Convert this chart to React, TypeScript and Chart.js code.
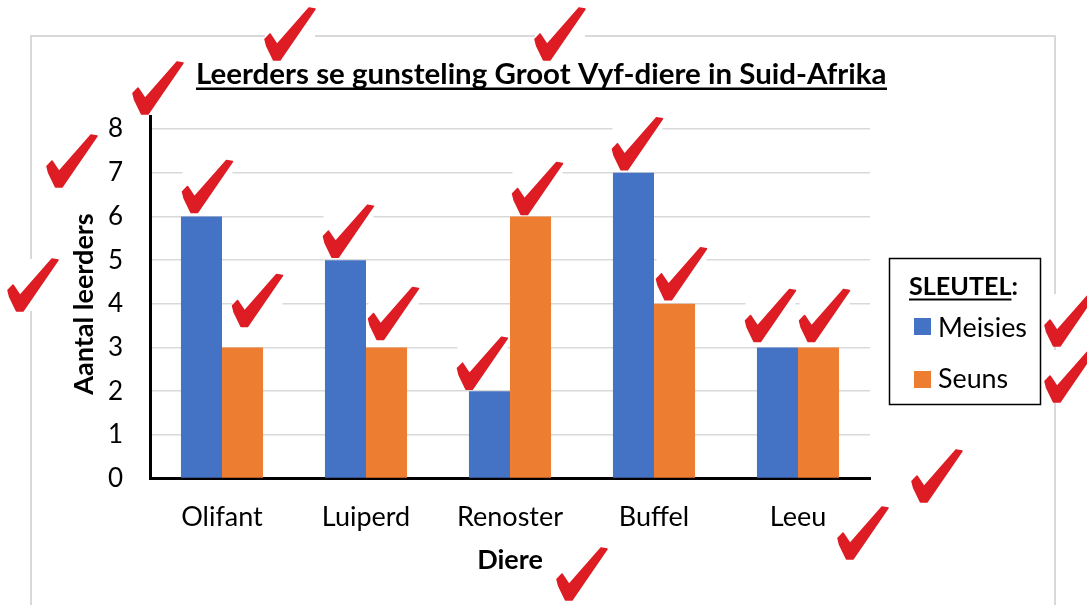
import React, { useEffect, useRef } from 'react';
import { Chart, registerables } from 'chart.js';

Chart.register(...registerables);

const categories = ['Olifant', 'Luiperd', 'Renoster', 'Buffel', 'Leeu'];
const meisies = [6, 5, 2, 7, 3];
const seuns = [3, 3, 6, 4, 3];
const yTicks = [0, 1, 2, 3, 4, 5, 6, 7, 8];
const seriesNames = ['Meisies', 'Seuns'];
const titleText = 'Leerders se gunsteling Groot Vyf-diere in Suid-Afrika';
const yTitle = 'Aantal leerders';
const xTitle = 'Diere';
const legendTitle = 'SLEUTEL';

const BLUE = '#4472C4';
const ORANGE = '#ED7D31';
const RED = '#DD1C24';
const FONT = 'Lato';

// check marks tied to bars: [dataset, index, dx from bar centre, dy from bar top]
const barChecks = [
  [0, 0, -19, -56], [1, 0, -10, -73],
  [0, 1, -22, -55], [1, 1, -18, -60],
  [0, 2, -32, -54], [1, 2, -18, -54],
  [0, 3, -21, -55], [1, 3, -18, -56],
  [0, 4, -32, -58], [1, 4, -19, -58],
];
// free-standing check marks (page positions)
const freeChecks = [
  [265, 8], [535, 8], [133, 62], [47, 135], [8, 259],
  [1045, 294], [1045, 350], [912, 450], [838, 507], [557, 548],
];

function drawCheck(ctx: CanvasRenderingContext2D, x: number, y: number) {
  const w = 50, h = 52;
  ctx.save();
  ctx.fillStyle = '#ffffff';
  ctx.fillRect(x, y, w, h);
  const pts = [
    [0.0, 0.6], [0.1, 0.5], [0.24, 0.7], [0.88, 0.0], [1.0, 0.02],
    [0.3, 1.0], [0.17, 1.0], [0.03, 0.72],
  ];
  ctx.beginPath();
  pts.forEach(([px, py], i) => {
    const X = x + px * w, Y = y + py * h;
    if (i === 0) ctx.moveTo(X, Y); else ctx.lineTo(X, Y);
  });
  ctx.closePath();
  ctx.fillStyle = RED;
  ctx.lineJoin = 'round';
  ctx.strokeStyle = RED;
  ctx.lineWidth = 1.5;
  ctx.fill();
  ctx.stroke();
  ctx.restore();
}

function fitFont(ctx: CanvasRenderingContext2D, text: string, target: number, weight: string) {
  ctx.font = `${weight} 100px ${FONT}`;
  const w = ctx.measureText(text).width;
  return (100 * target) / w;
}

const decorPlugin = {
  id: 'decor',
  beforeDraw(chart: any) {
    const ctx = chart.ctx as CanvasRenderingContext2D;
    ctx.save();
    ctx.fillStyle = '#ffffff';
    ctx.fillRect(0, 0, chart.width, chart.height);
    ctx.strokeStyle = '#d9d9d9';
    ctx.lineWidth = 2;
    ctx.beginPath();
    ctx.moveTo(31, 620);
    ctx.lineTo(31, 36);
    ctx.lineTo(1055, 36);
    ctx.lineTo(1055, 620);
    ctx.stroke();
    ctx.restore();
  },
  afterDraw(chart: any) {
    const ctx = chart.ctx as CanvasRenderingContext2D;
    ctx.save();
    // title
    const ts = fitFont(ctx, titleText, 691, 'bold');
    ctx.font = `bold ${ts}px ${FONT}`;
    ctx.fillStyle = '#000';
    ctx.textBaseline = 'alphabetic';
    ctx.textAlign = 'left';
    ctx.fillText(titleText, 196, 84);
    ctx.fillRect(196, 87.5, 691, 2.5);

    // y axis title
    ctx.save();
    ctx.translate(84, 304);
    ctx.rotate(-Math.PI / 2);
    ctx.font = `bold 27px ${FONT}`;
    ctx.textAlign = 'center';
    ctx.textBaseline = 'middle';
    ctx.fillText(yTitle, 0, 0);
    ctx.restore();

    // legend
    ctx.strokeStyle = '#000';
    ctx.lineWidth = 1.5;
    ctx.strokeRect(889.5, 258.5, 151, 146);
    const ls = fitFont(ctx, legendTitle + ':', 109, 'bold');
    ctx.font = `bold ${ls}px ${FONT}`;
    ctx.fillText(legendTitle + ':', 909, 295);
    const uw = ctx.measureText(legendTitle).width;
    ctx.fillRect(909, 298.5, uw, 2);
    const is = fitFont(ctx, seriesNames[0], 89, 'normal');
    ctx.font = `normal ${is}px ${FONT}`;
    const colors = [BLUE, ORANGE];
    const rows = [[318, 337], [371, 388]];
    seriesNames.forEach((n, i) => {
      ctx.fillStyle = colors[i];
      ctx.fillRect(914, rows[i][0], 17, 17);
      ctx.fillStyle = '#000';
      ctx.fillText(n, 938, rows[i][1]);
    });
    ctx.restore();

    // check marks
    barChecks.forEach(([d, i, dx, dy]) => {
      const el = chart.getDatasetMeta(d).data[i];
      drawCheck(ctx, el.x + dx, el.y + dy);
    });
    freeChecks.forEach(([x, y]) => drawCheck(ctx, x, y));
  },
};

export default function App() {
  const ref = useRef<HTMLCanvasElement>(null);
  useEffect(() => {
    document.body.style.margin = '0';
    const chart = new Chart(ref.current!, {
      type: 'bar',
      data: {
        labels: categories,
        datasets: [
          { label: seriesNames[0], data: meisies, backgroundColor: BLUE, categoryPercentage: 0.57, barPercentage: 1 },
          { label: seriesNames[1], data: seuns, backgroundColor: ORANGE, categoryPercentage: 0.57, barPercentage: 1 },
        ],
      },
      options: {
        responsive: false,
        animation: false,
        devicePixelRatio: 1,
        layout: { padding: { left: 0, right: 217, top: 116, bottom: 0 } },
        plugins: {
          legend: { display: false },
          title: { display: false },
          tooltip: { enabled: false },
        },
        scales: {
          x: {
            grid: { display: false },
            border: { color: '#000', width: 3 },
            ticks: { color: '#000', font: { family: FONT, size: 27 }, padding: 15 },
            title: { display: true, text: xTitle, color: '#000', font: { family: FONT, size: 27, weight: 'bold' }, padding: { top: 0, bottom: 29 } },
            afterFit: (s: any) => { s.height = 126.5; },
          },
          y: {
            min: 0,
            max: 8.3,
            afterBuildTicks: (s: any) => { s.ticks = yTicks.map((v) => ({ value: v })); },
            grid: { color: '#d9d9d9', lineWidth: 1.5, drawTicks: false },
            border: { color: '#000', width: 3 },
            ticks: { color: '#000', font: { family: FONT, size: 26 }, padding: 27 },
            title: { display: false, text: yTitle },
            afterFit: (s: any) => { s.width = 150; },
          },
        },
      },
      plugins: [decorPlugin],
    });
    return () => chart.destroy();
  }, []);
  return (
    <div style={{ width: 1087, height: 605 }}>
      <canvas ref={ref} width={1087} height={605} style={{ display: 'block' }} />
    </div>
  );
}
